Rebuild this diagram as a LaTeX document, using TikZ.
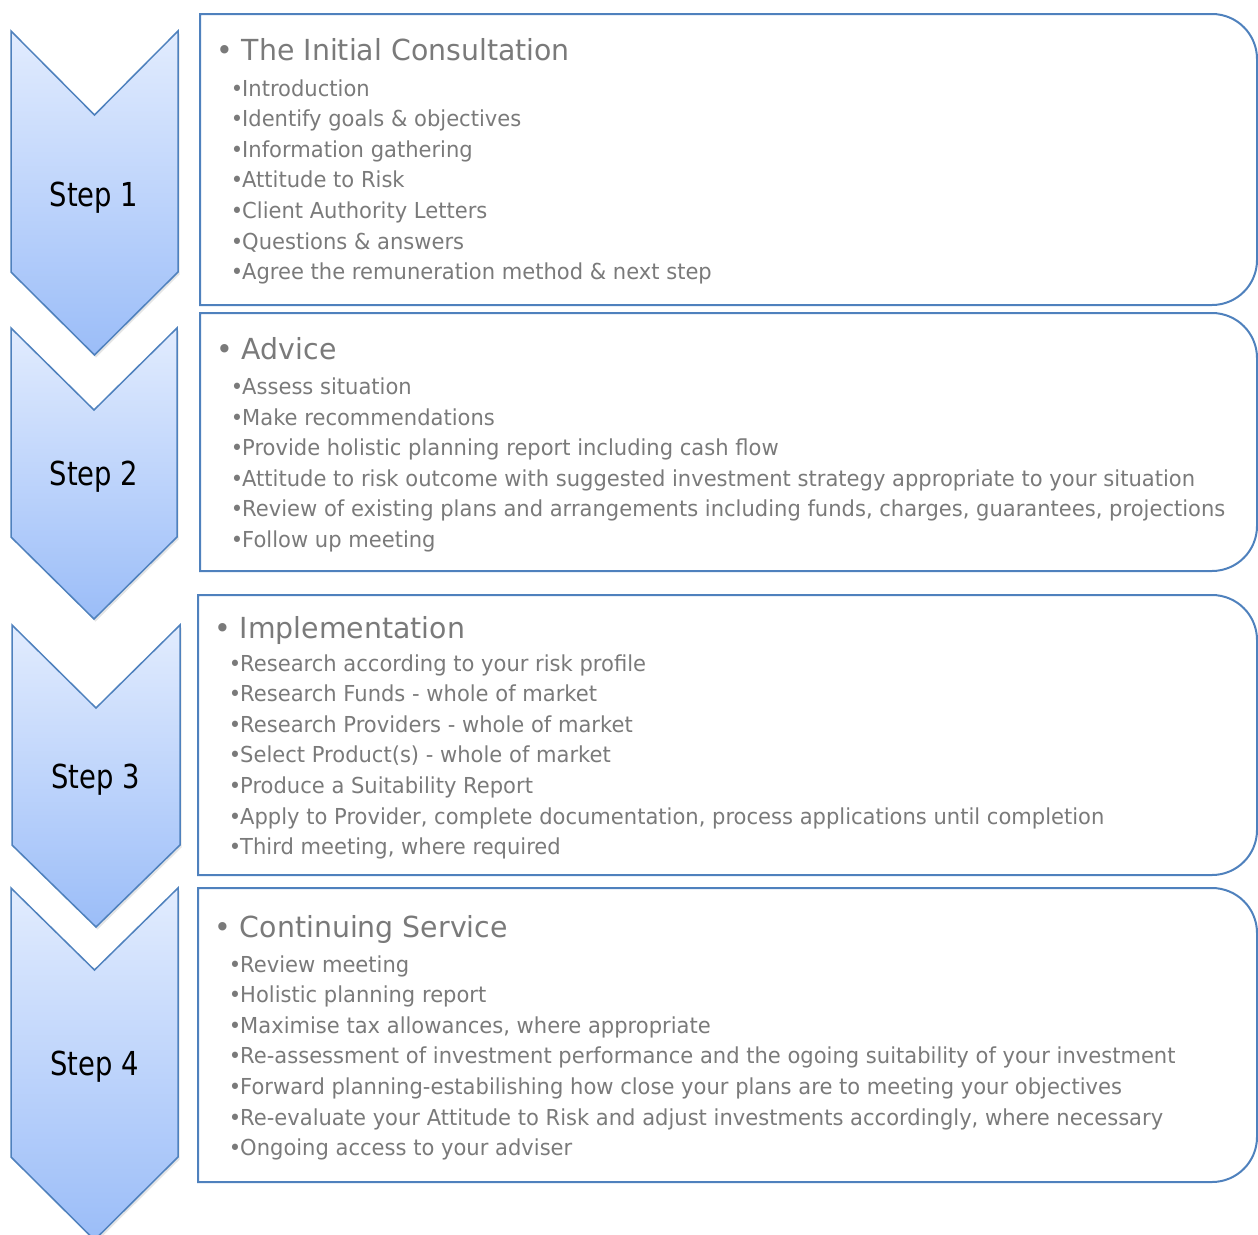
\documentclass[tikz,border=0pt]{standalone}
\usepackage{fontspec}
\setmainfont{DejaVu Sans}
\newfontfamily\itemfont{DejaVu Sans}[FakeStretch=0.957]
\newfontfamily\headfont{DejaVu Sans}[FakeStretch=0.978]
\newfontfamily\stepfont{DejaVu Sans}[FakeStretch=0.83]
\definecolor{chevtop}{HTML}{E2ECFE}
\definecolor{chevbot}{HTML}{9BBDF8}
\definecolor{chevline}{HTML}{4F81BD}
\definecolor{boxline}{HTML}{4F81BD}
\definecolor{txtgray}{HTML}{7A7A7A}
% chevron: left, right, top, notch, sides end, tip
\newcommand\drawchev[6]{%
  \fill[chevshadow, shift={(1.5,2.5)}] (#1,#3) -- ({(#1+#2)/2},#4) -- (#2,#3) -- (#2,#5)
    -- ({(#1+#2)/2},#6) -- (#1,#5) -- cycle;
  \path[chevron] (#1,#3) -- ({(#1+#2)/2},#4) -- (#2,#3) -- (#2,#5)
    -- ({(#1+#2)/2},#6) -- (#1,#5) -- cycle;}
% panel with rounded right corners: left, top, bottom
\newcommand\drawpanel[3]{%
  \draw[panel] (#1,#2) [rounded corners=45pt] -- (1257,#2) -- (1257,#3)
    [sharp corners] -- (#1,#3) -- cycle;}
\newcommand\bul{\hbox to 10pt{\hss•\hss}}
\begin{document}
\begin{tikzpicture}[x=1pt,y=-1pt,
  chevron/.style={draw=chevline, line width=1.5pt, line join=miter,
    top color=chevtop, bottom color=chevbot},
  chevshadow/.style={fill=black, opacity=0.10},
  panel/.style={draw=boxline, line width=2pt},
  head/.style={anchor=base west, inner sep=0pt, text=txtgray,
    font=\headfont\fontsize{29}{34}\selectfont},
  item/.style={anchor=base west, inner sep=0pt, text=txtgray,
    font=\itemfont\fontsize{22}{26}\selectfont},
  steplabel/.style={anchor=base, inner sep=0pt, text=black,
    font=\stepfont\fontsize{33}{38}\selectfont}]
\useasboundingbox (0,0) rectangle (1258,1234);

% ---- chevrons ----
\drawchev{11}{178}{31}{115}{272}{355}
\drawchev{11}{177}{328}{410}{537}{619}
\drawchev{12}{180}{625}{708}{845}{927}
\drawchev{11}{178}{888}{970}{1157}{1240}

\node[steplabel] (s1) at (94,206) {Step 1};
\node[steplabel] (s2) at (94,485) {Step 2};
\node[steplabel] (s3) at (95.5,788) {Step 3};
\node[steplabel] (s4) at (94.5,1075) {Step 4};

% ---- panels ----
\drawpanel{200}{14}{305}
\drawpanel{200}{313}{571}
\drawpanel{198}{595}{875}
\drawpanel{198}{888}{1182}

% ---- step 1 ----
\node[head] (h1) at (216,60.7) {• The Initial Consultation};
\node[item] (a1) at (232,96)    {\bul Introduction};
\node[item] (a2) at (232,126.6) {\bul Identify goals \& objectives};
\node[item] (a3) at (232,157.2) {\bul Information gathering};
\node[item] (a4) at (232,187.8) {\bul Attitude to Risk};
\node[item] (a5) at (232,218.4) {\bul Client Authority Letters};
\node[item] (a6) at (232,249)   {\bul Questions \& answers};
\node[item] (a7) at (232,279.6) {\bul Agree the remuneration method \& next step};

% ---- step 2 ----
\node[head] (h2) at (216,359) {• Advice};
\node[item] (b1) at (232,394.5) {\bul Assess situation};
\node[item] (b2) at (232,425.1) {\bul Make recommendations};
\node[item] (b3) at (232,455.7) {\bul Provide holistic planning report including cash flow};
\node[item] (b4) at (232,486.3) {\bul Attitude to risk outcome with suggested investment strategy appropriate to your situation};
\node[item] (b5) at (232,516.9) {\bul Review of existing plans and arrangements including funds, charges, guarantees, projections};
\node[item] (b6) at (232,547.5) {\bul Follow up meeting};

% ---- step 3 ----
\node[head] (h3) at (214,638.3) {• Implementation};
\node[item] (c1) at (230,671)   {\bul Research according to your risk profile};
\node[item] (c2) at (230,701.6) {\bul Research Funds - whole of market};
\node[item] (c3) at (230,732.2) {\bul Research Providers - whole of market};
\node[item] (c4) at (230,762.8) {\bul Select Product(s) - whole of market};
\node[item] (c5) at (230,793.4) {\bul Produce a Suitability Report};
\node[item] (c6) at (230,824)   {\bul Apply to Provider, complete documentation, process applications until completion};
\node[item] (c7) at (230,854.6) {\bul Third meeting, where required};

% ---- step 4 ----
\node[head] (h4) at (214,937) {• Continuing Service};
\node[item] (d1) at (230,972)    {\bul Review meeting};
\node[item] (d2) at (230,1002.6) {\bul Holistic planning report};
\node[item] (d3) at (230,1033.2) {\bul Maximise tax allowances, where appropriate};
\node[item] (d4) at (230,1063.8) {\bul Re-assessment of investment performance and the ogoing suitability of your investment};
\node[item] (d5) at (230,1094.4) {\bul Forward planning-estabilishing how close your plans are to meeting your objectives};
\node[item] (d6) at (230,1125)   {\bul Re-evaluate your Attitude to Risk and adjust investments accordingly, where necessary};
\node[item] (d7) at (230,1155.6) {\bul Ongoing access to your adviser};
\end{tikzpicture}
\end{document}
